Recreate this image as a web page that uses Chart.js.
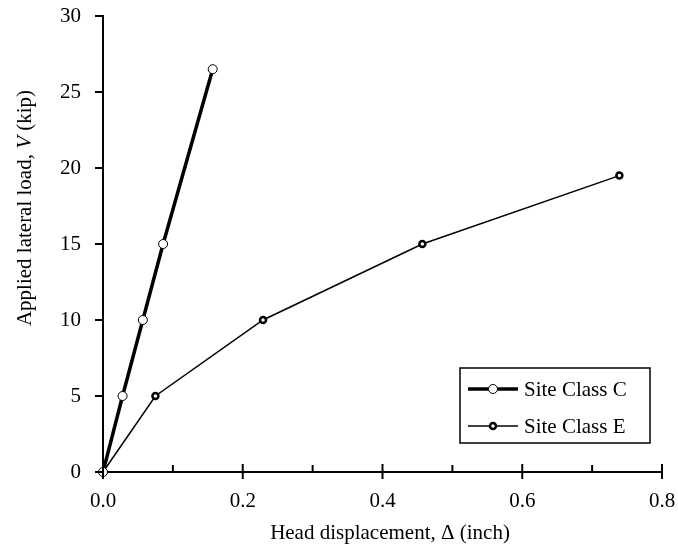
<!DOCTYPE html>
<html>
<head>
<meta charset="utf-8">
<script src="https://cdn.jsdelivr.net/npm/chart.js@4"></script>
<style>
  html,body{margin:0;padding:0;background:#fff;}
  #wrap{width:678px;height:548px;position:relative;}
</style>
</head>
<body>
<div id="wrap"><canvas id="c" width="678" height="548"></canvas></div>
<script>
// ---- data ----
const seriesNames = ["Site Class C", "Site Class E"];
const dispC = [0, 0.028, 0.057, 0.086, 0.157];
const loadC = [0, 5, 10, 15, 26.5];
const dispE = [0, 0.075, 0.229, 0.457, 0.739];
const loadE = [0, 5, 10, 15, 19.5];
const xMajorTicks = [0, 0.2, 0.4, 0.6, 0.8];
const xMinorTicks = [0.1, 0.3, 0.5, 0.7];
const yTicks = [0, 5, 10, 15, 20, 25, 30];
const xTitle = "Head displacement, \u0394 (inch)";
const yTitleParts = [["Applied lateral load, ", false], ["V", true], [" (kip)", false]];

const FONT = "'Liberation Serif', 'Times New Roman', serif";
const FS = 21;

const toPts = (xs, ys) => xs.map((x, i) => ({x: x, y: ys[i]}));

const decor = {
  id: 'decor',
  afterDraw(chart) {
    const ctx = chart.ctx;
    const xs = chart.scales.x, ys = chart.scales.y;
    const area = chart.chartArea;
    ctx.save();
    ctx.strokeStyle = '#000';
    ctx.lineWidth = 2;
    ctx.lineCap = 'butt';
    // y ticks (outward)
    yTicks.forEach(v => {
      const p = ys.getPixelForValue(v);
      ctx.beginPath(); ctx.moveTo(area.left - 8, p); ctx.lineTo(area.left, p); ctx.stroke();
    });
    // x major ticks (crossing)
    xMajorTicks.forEach(v => {
      const p = xs.getPixelForValue(v);
      ctx.beginPath(); ctx.moveTo(p, area.bottom - 8); ctx.lineTo(p, area.bottom + 7); ctx.stroke();
    });
    // x minor ticks (inside)
    xMinorTicks.forEach(v => {
      const p = xs.getPixelForValue(v);
      ctx.beginPath(); ctx.moveTo(p, area.bottom - 7); ctx.lineTo(p, area.bottom); ctx.stroke();
    });
    // axis titles
    ctx.fillStyle = '#000';
    ctx.textBaseline = 'middle';
    ctx.textAlign = 'center';
    ctx.font = FS + "px " + FONT;
    ctx.fillText(xTitle, 390, 533);
    // y title with italic V
    ctx.save();
    ctx.translate(25, 208);
    ctx.rotate(-Math.PI / 2);
    const fonts = yTitleParts.map(p => (p[1] ? "italic " : "") + FS + "px " + FONT);
    let widths = yTitleParts.map((p, i) => { ctx.font = fonts[i]; return ctx.measureText(p[0]).width; });
    const total = widths.reduce((a, b) => a + b, 0);
    let cx = -total / 2;
    ctx.textAlign = 'left';
    yTitleParts.forEach((p, i) => {
      ctx.font = fonts[i];
      ctx.fillText(p[0], cx, 0);
      cx += widths[i];
    });
    ctx.restore();
    // legend
    const bx = 460, by = 368, bw = 190, bh = 75;
    ctx.fillStyle = '#fff';
    ctx.fillRect(bx, by, bw, bh);
    ctx.lineWidth = 1.5;
    ctx.strokeStyle = '#000';
    ctx.strokeRect(bx, by, bw, bh);
    const rows = [389, 426];
    chart.data.datasets.forEach((ds, i) => {
      const ry = rows[i];
      ctx.beginPath();
      ctx.lineWidth = ds.borderWidth;
      ctx.strokeStyle = ds.borderColor;
      ctx.moveTo(468, ry); ctx.lineTo(518, ry); ctx.stroke();
      ctx.beginPath();
      ctx.arc(493, ry, ds.pointRadius, 0, Math.PI * 2);
      ctx.fillStyle = ds.pointBackgroundColor;
      ctx.fill();
      ctx.lineWidth = ds.pointBorderWidth;
      ctx.strokeStyle = ds.pointBorderColor;
      ctx.stroke();
      ctx.fillStyle = '#000';
      ctx.font = FS + "px " + FONT;
      ctx.textAlign = 'left';
      ctx.textBaseline = 'middle';
      ctx.fillText(ds.label, 524, ry + 1);
    });
    ctx.restore();
  }
};

new Chart(document.getElementById('c'), {
  type: 'line',
  data: {
    datasets: [
      {
        label: seriesNames[0],
        data: toPts(dispC, loadC),
        borderColor: '#000',
        borderWidth: 3.5,
        pointRadius: 4.5,
        pointBackgroundColor: '#fff',
        pointBorderColor: '#000',
        pointBorderWidth: 1,
        tension: 0,
        clip: false,
        order: 1
      },
      {
        label: seriesNames[1],
        data: toPts(dispE, loadE),
        borderColor: '#000',
        borderWidth: 1.5,
        pointRadius: 3,
        pointBackgroundColor: '#fff',
        pointBorderColor: '#000',
        pointBorderWidth: 2.5,
        tension: 0,
        clip: false,
        order: 2
      }
    ]
  },
  options: {
    responsive: false,
    animation: false,
    devicePixelRatio: 1,
    layout: {padding: {top: 16, right: 16, left: 0, bottom: 0}},
    plugins: {legend: {display: false}, tooltip: {enabled: false}},
    scales: {
      x: {
        type: 'linear',
        min: 0, max: 0.8,
        afterFit(s) { s.height = 76; },
        afterBuildTicks(s) { s.ticks = xMajorTicks.map(v => ({value: v})); },
        grid: {display: false, drawTicks: true, tickLength: 17},
        border: {display: true, color: '#000', width: 2},
        ticks: {
          color: '#000',
          font: {family: FONT, size: FS},
          padding: 0,
          maxRotation: 0,
          callback: v => Number(v).toFixed(1)
        }
      },
      y: {
        type: 'linear',
        min: 0, max: 30,
        afterFit(s) { s.width = 103; },
        afterBuildTicks(s) { s.ticks = yTicks.map(v => ({value: v})); },
        grid: {display: false, drawTicks: true, tickLength: 22},
        border: {display: true, color: '#000', width: 2},
        ticks: {
          color: '#000',
          font: {family: FONT, size: FS},
          padding: 0,
          callback: v => String(v)
        }
      }
    }
  },
  plugins: [decor]
});
</script>
</body>
</html>
